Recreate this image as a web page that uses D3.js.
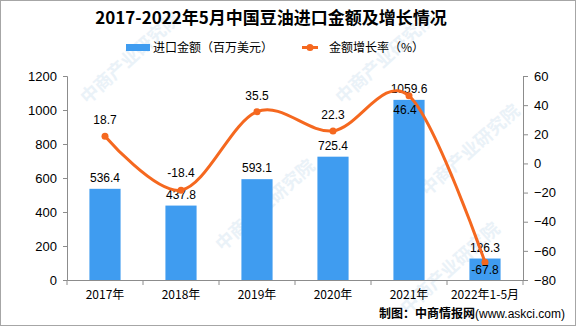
<!DOCTYPE html>
<html><head><meta charset="utf-8">
<script src="https://cdn.jsdelivr.net/npm/d3@7"></script>
<style>
html,body{margin:0;padding:0;background:#fff;}
svg{display:block;}
</style></head>
<body><svg id="chart" width="576" height="326"></svg>
<script>
const categories = ["2017年","2018年","2019年","2020年","2021年","2022年1-5月"];
const importValues = [536.4, 437.8, 593.1, 725.4, 1059.6, 126.3];
const growthRates = [18.7, -18.4, 35.5, 22.3, 46.4, -67.8];
const leftTicks = [0,200,400,600,800,1000,1200];
const rightTicks = [-80,-60,-40,-20,0,20,40,60];
const title = "2017-2022年5月中国豆油进口金额及增长情况";
const legendBar = "进口金额（百万美元）";
const legendLine = "金额增长率（%）";
const sourceText = "制图：中商情报网";
const sourceUrl = "(www.askci.com)";

const svg = d3.select("#chart");
const W = 576, H = 326;
const m = {l:67, r:53, t:76, b:46};
const BAR = "#3f9cf0", LINE = "#f5681f";
const cjk = "'Noto Sans CJK SC','Noto Sans',sans-serif";
const num = "'Liberation Sans',Arial,sans-serif";

svg.append("rect").attr("x",0.5).attr("y",0.5).attr("width",W-1).attr("height",H-1)
  .attr("fill","#fff").attr("stroke","#a6a6a6");

// watermarks (kept inside the frame)
const wm = [[130,58],[385,58],[265,205],[470,150],[450,268]];
svg.append("g").selectAll("text").data(wm).join("text")
  .attr("transform",d=>`translate(${d[0]},${d[1]}) rotate(-42)`)
  .attr("text-anchor","middle").attr("dy","0.35em")
  .attr("font-family",cjk).attr("font-weight","bold").attr("font-size",18)
  .attr("fill","#d6e6f2").attr("opacity",0.5).text("中商产业研究院");

const x = d3.scaleBand().domain(categories).range([m.l, W-m.r]);
const y = d3.scaleLinear().domain([0,1200]).range([H-m.b, m.t]);
const y2 = d3.scaleLinear().domain([-80,60]).range([H-m.b, m.t]);

// axes
const gl = svg.append("g").attr("transform",`translate(${m.l},0)`)
  .call(d3.axisLeft(y).tickValues(leftTicks).tickSize(4).tickPadding(6).tickFormat(d3.format("d")));
const gr = svg.append("g").attr("transform",`translate(${W-m.r},0)`)
  .call(d3.axisRight(y2).tickValues(rightTicks).tickSize(5).tickPadding(6).tickFormat(d=>d<0?"\u2212"+Math.abs(d):d));
const gx = svg.append("g").attr("transform",`translate(0,${H-m.b})`)
  .call(d3.axisBottom(x).tickSize(0).tickPadding(10));
[gl,gr,gx].forEach(g=>{
  g.select(".domain").attr("stroke","#8c8c8c");
  g.selectAll(".tick line").attr("stroke","#8c8c8c");
  g.selectAll("text").attr("fill","#000").attr("font-family",num).attr("font-size",13);
});
gx.selectAll("text").attr("font-family",cjk).attr("font-size",12);
// x band boundary ticks
const bounds = categories.map(c=>x(c)).concat([W-m.r]);
gx.selectAll(".bt").data(bounds).join("line").attr("class","bt")
  .attr("x1",d=>d).attr("x2",d=>d).attr("y1",0).attr("y2",5).attr("stroke","#8c8c8c");

// bars
const bw = x.bandwidth()*0.41;
svg.append("g").selectAll("rect").data(importValues).join("rect")
  .attr("x",(d,i)=>x(categories[i])+x.bandwidth()/2-bw/2)
  .attr("width",bw)
  .attr("y",d=>y(d)).attr("height",d=>y(0)-y(d)).attr("fill",BAR);

// bar labels
svg.append("g").selectAll("text").data(importValues).join("text")
  .attr("x",(d,i)=>x(categories[i])+x.bandwidth()/2)
  .attr("y",d=>y(d)-7).attr("text-anchor","middle")
  .attr("font-family",num).attr("font-size",12).attr("fill","#000")
  .text(d=>d.toFixed(1));

// line
const cx = (i)=>x(categories[i])+x.bandwidth()/2;
const line = d3.line().x((d,i)=>cx(i)).y(d=>y2(d)).curve(d3.curveCardinal.tension(0));
svg.append("path").datum(growthRates).attr("d",line)
  .attr("fill","none").attr("stroke",LINE).attr("stroke-width",3);
svg.append("g").selectAll("circle").data(growthRates).join("circle")
  .attr("cx",(d,i)=>cx(i)).attr("cy",d=>y2(d)).attr("r",3.5).attr("fill",LINE);

// line labels
const offs = [-12,-13,-12,-12,18,12];
svg.append("g").selectAll("text").data(growthRates).join("text")
  .attr("x",(d,i)=>cx(i)-(i===4?4:0))
  .attr("y",(d,i)=>y2(d)+offs[i]).attr("text-anchor","middle")
  .attr("font-family",num).attr("font-size",12).attr("fill","#000")
  .text(d=>d.toFixed(1));

// title
svg.append("text").attr("x",271).attr("y",24).attr("text-anchor","middle")
  .attr("font-family",cjk).attr("font-weight","bold").attr("font-size",17)
  .attr("fill","#000").text(title);

// legend
svg.append("rect").attr("x",126).attr("y",44).attr("width",24).attr("height",7).attr("fill",BAR);
svg.append("text").attr("x",153).attr("y",52).attr("font-family",cjk).attr("font-size",12)
  .attr("fill","#000").text(legendBar);
svg.append("line").attr("x1",302).attr("x2",318).attr("y1",47.5).attr("y2",47.5)
  .attr("stroke",LINE).attr("stroke-width",3);
svg.append("circle").attr("cx",310).attr("cy",47.5).attr("r",3.5).attr("fill",LINE);
svg.append("text").attr("x",329).attr("y",52).attr("font-family",cjk).attr("font-size",12)
  .attr("fill","#000").text(legendLine);

// source
const src = svg.append("text").attr("x",379).attr("y",318).attr("font-size",12).attr("fill","#000");
src.append("tspan").attr("font-family",cjk).attr("font-weight","bold").text(sourceText);
src.append("tspan").attr("font-family",num).text(sourceUrl);
</script></body></html>
